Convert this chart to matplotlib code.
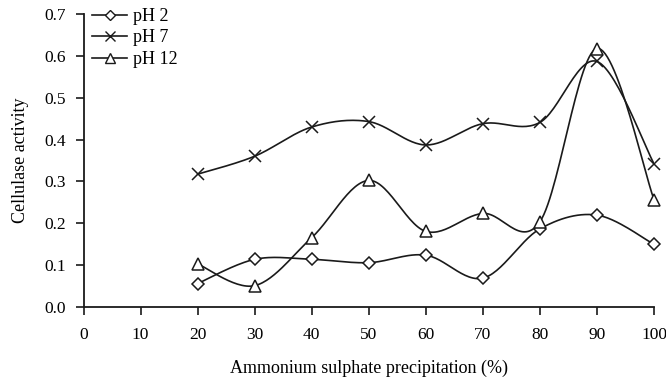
import numpy as np
import matplotlib
matplotlib.use('Agg')
import matplotlib.pyplot as plt

plt.rcParams['font.family'] = ['Liberation Serif', 'DejaVu Serif']

# ammonium sulphate saturation (%)
saturation = [20, 30, 40, 50, 60, 70, 80, 90, 100]

ph2 = [0.055, 0.113, 0.113, 0.105, 0.123, 0.068, 0.186, 0.219, 0.149]
ph7 = [0.317, 0.360, 0.430, 0.443, 0.387, 0.438, 0.441, 0.587, 0.342]
ph12 = [0.102, 0.050, 0.165, 0.302, 0.180, 0.223, 0.203, 0.618, 0.256]

series = [('pH 2', ph2, 'D', 6), ('pH 7', ph7, 'x', 9), ('pH 12', ph12, '^', 8.5)]


def smooth(x, y, n=30):
    # excel-style smoothed line: catmull-rom segments as cubic beziers
    x = np.asarray(x, float)
    y = np.asarray(y, float)
    px = np.concatenate([[x[0]], x, [x[-1]]])
    py = np.concatenate([[y[0]], y, [y[-1]]])
    t = np.linspace(0, 1, n)[:, None]
    xs, ys = [], []
    for i in range(1, len(px) - 2):
        p0 = np.array([px[i], py[i]])
        p3 = np.array([px[i + 1], py[i + 1]])
        c1 = p0 + (np.array([px[i + 1], py[i + 1]]) - np.array([px[i - 1], py[i - 1]])) / 6
        c2 = p3 - (np.array([px[i + 2], py[i + 2]]) - np.array([px[i], py[i]])) / 6
        pts = ((1 - t) ** 3 * p0 + 3 * (1 - t) ** 2 * t * c1
               + 3 * (1 - t) * t ** 2 * c2 + t ** 3 * p3)
        xs.extend(pts[:, 0])
        ys.extend(pts[:, 1])
    return np.array(xs), np.array(ys)


fig = plt.figure(figsize=(6.66, 3.83), dpi=100)
ax = fig.add_axes([0.1254, 0.1997, 0.8566, 0.763])

col = '#1a1a1a'
for name, vals, mk, ms in series:
    sx, sy = smooth(saturation, vals)
    ax.plot(sx, sy, color=col, lw=1.2, zorder=2)
    ax.plot(saturation, vals, linestyle='none', marker=mk, ms=ms,
            mfc='white', mec=col, mew=1.1, zorder=3, clip_on=False)
    # legend proxy
    ax.plot([], [], color=col, lw=1.2, marker=mk, ms=ms * 0.8, mfc='white',
            mec=col, mew=1.0, label=name)

ax.set_xlim(0, 100)
ax.set_ylim(0, 0.7)
ax.set_xticks(np.arange(0, 101, 10))
ax.set_yticks(np.arange(0, 0.71, 0.1))
ax.set_yticklabels(['%.1f' % v for v in np.arange(0, 0.71, 0.1)])
ax.spines['top'].set_visible(False)
ax.spines['right'].set_visible(False)
for s in ['left', 'bottom']:
    ax.spines[s].set_linewidth(1.3)
    ax.spines[s].set_color(col)
ax.tick_params(direction='out', length=5.5, width=1.2, colors=col,
               labelsize=12.5, labelcolor='black')
ax.tick_params(axis='x', pad=9)
ax.tick_params(axis='y', pad=7)

ax.set_xlabel('Ammonium sulphate precipitation (%)', fontsize=13, labelpad=12)
ax.set_ylabel('Cellulase activity', fontsize=13, labelpad=11)

ax.legend(loc='upper left', bbox_to_anchor=(0.015, 1.022), frameon=False,
          fontsize=13, handlelength=1.95, handletextpad=0.3, labelspacing=0.25,
          borderaxespad=0, borderpad=0)

fig.savefig('out.png', dpi=100)
